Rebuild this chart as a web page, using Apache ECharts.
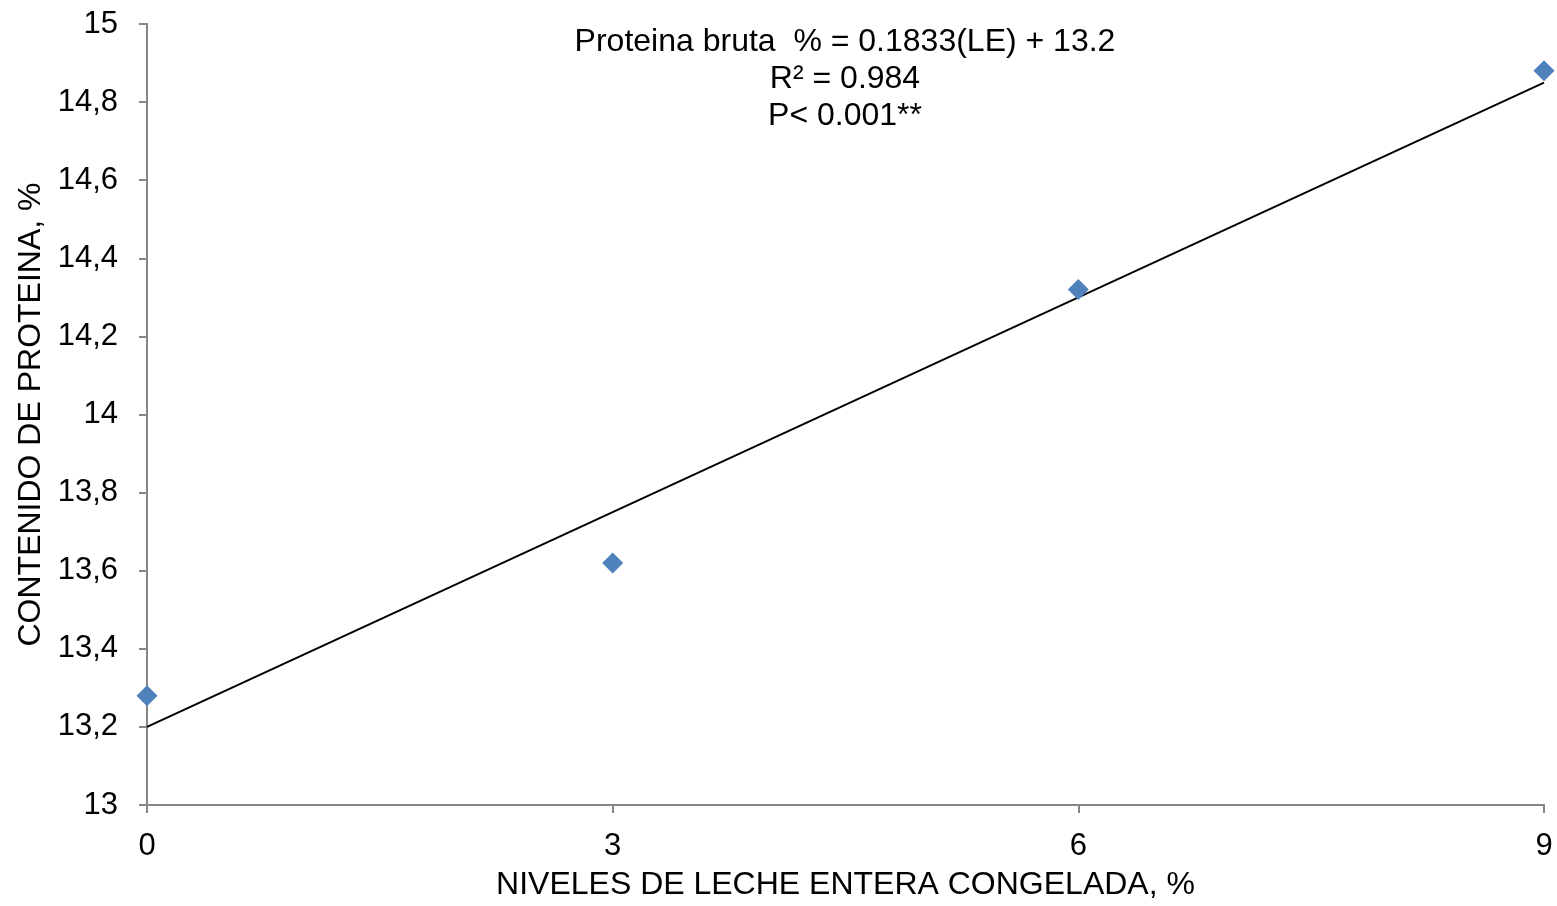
<!DOCTYPE html>
<html><head><meta charset="utf-8">
<script src="https://cdn.jsdelivr.net/npm/echarts@6/dist/echarts.min.js"></script>
<style>html,body{margin:0;padding:0;background:#fff}#c{width:1557px;height:906px}</style>
</head><body><div id="c"></div>
<script>
const levels = [0, 3, 6, 9];
const protein = [13.28, 13.62, 14.32, 14.88];
const xTicks = [0, 3, 6, 9];
const trendSlope = 0.1833;
const trendIntercept = 13.2;
const eqLines = ['Proteina bruta  % = 0.1833(LE) + 13.2', 'R² = 0.984', 'P< 0.001**'];

const FONT = '"Liberation Sans", Arial, sans-serif';
const chart = echarts.init(document.getElementById('c'));
const pts = levels.map((x, i) => [x, protein[i]]);
const trend = [levels[0], levels[levels.length - 1]].map(x => [x, trendIntercept + trendSlope * x]);
chart.setOption({
  animation: false,
  textStyle: {fontFamily: FONT},
  grid: {left: 147, right: 13, top: 24, bottom: 100},
  xAxis: {
    type: 'value', min: 0, max: 9, interval: 3,
    name: 'NIVELES DE LECHE ENTERA CONGELADA, %', nameLocation: 'middle', nameGap: 64,
    nameTextStyle: {fontFamily: FONT, fontSize: 32, color: '#000'},
    axisLine: {show: true, lineStyle: {color: '#868686', width: 2}},
    axisTick: {show: true, length: 8, lineStyle: {color: '#868686', width: 2}},
    axisLabel: {fontFamily: FONT, fontSize: 31, color: '#000', margin: 26,
      formatter: v => xTicks.includes(v) ? String(v) : ''},
    splitLine: {show: false}
  },
  yAxis: {
    type: 'value', min: 13, max: 15, interval: 0.2,
    name: 'CONTENIDO DE PROTEINA, %', nameLocation: 'middle', nameGap: 100,
    nameTextStyle: {fontFamily: FONT, fontSize: 32, color: '#000'},
    axisLine: {show: true, lineStyle: {color: '#868686', width: 2}},
    axisTick: {show: true, length: 8, lineStyle: {color: '#868686', width: 2}},
    axisLabel: {fontFamily: FONT, fontSize: 31, color: '#000', margin: 29,
      formatter: v => String(Math.round(v * 10) / 10).replace('.', ',')},
    splitLine: {show: false}
  },
  graphic: eqLines.map((t, i) => ({type: 'text', x: 845, y: 42 + i * 37,
    style: {text: t, fontFamily: FONT, fontSize: 32, fill: '#000', textAlign: 'center', textVerticalAlign: 'middle'}})),
  series: [
    {type: 'line', data: trend, symbol: 'none', lineStyle: {color: '#000', width: 2}, z: 2},
    {type: 'scatter', data: pts, symbol: 'diamond', symbolSize: [21, 21],
      itemStyle: {color: '#4F81BD', opacity: 1}, z: 3}
  ]
});
</script></body></html>
